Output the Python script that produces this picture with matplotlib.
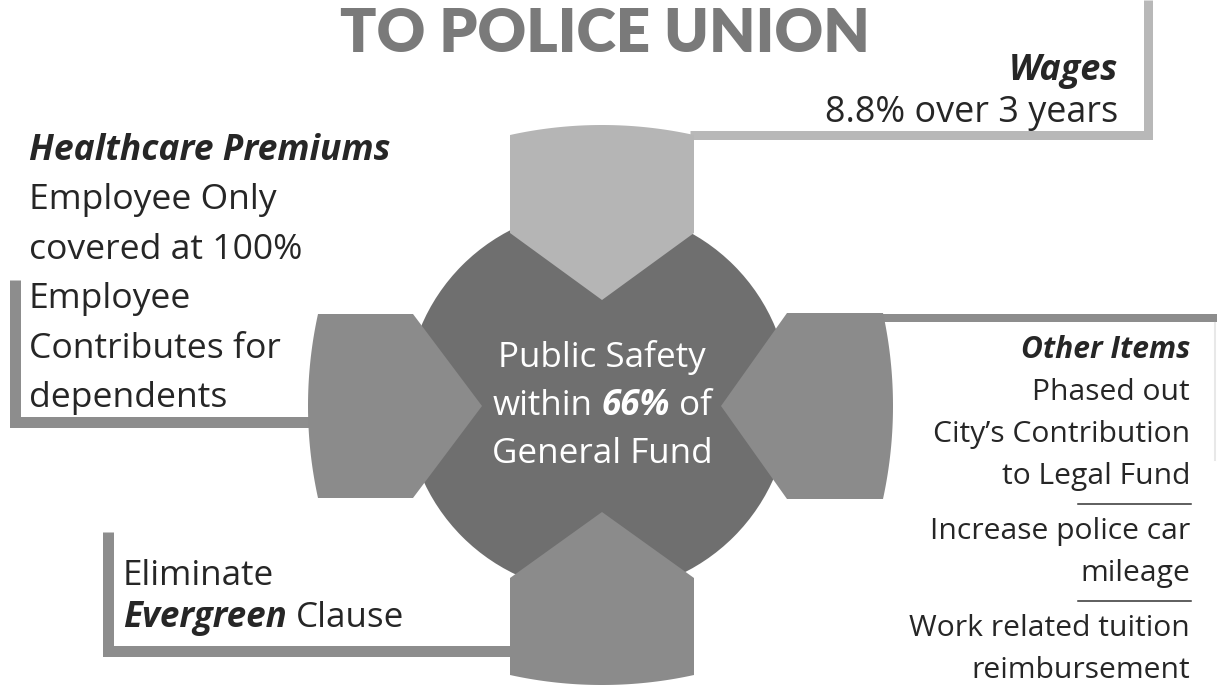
import numpy as np
import matplotlib
matplotlib.use("Agg")
import matplotlib.pyplot as plt
from matplotlib.patches import Polygon, Circle

W, H = 1217, 688
PX = 0.72  # pixels -> points at dpi 100

# ---- text content ----
title = "TO POLICE UNION"

wages_head = "Wages"
wages_lines = ["8.8% over 3 years"]

health_head = "Healthcare Premiums"
health_lines = ["Employee Only", "covered at 100%", "Employee",
                "Contributes for", "dependents"]

other_head = "Other Items"
other_groups = [["Phased out", "City\u2019s Contribution", "to Legal Fund"],
                ["Increase police car", "mileage"],
                ["Work related tuition", "reimbursement"]]

# (text, emphasised) runs, joined by a space
evergreen_runs = [[("Eliminate", False)],
                  [("Evergreen", True), ("Clause", False)]]
center_runs = [[("Public Safety", False)],
               [("within", False), ("66%", True), ("of", False)],
               [("General Fund", False)]]

# ---- layout (pixels) ----
hub = (602, 406)
circle_c, circle_r = (598, 401), 192
arm_dirs = [(0, -1), (-1, 0), (1, 0), (0, 1)]      # top, left, right, bottom
arm_apex = [106, 120, 119, 106]
arm_inner = [173, 189, 185, 172]
arm_outer = [281, 294, 291, 279]
arm_half = [92, 92, 93, 92]
arm_cols = ["#b5b5b5", "#8b8b8b", "#8b8b8b", "#8b8b8b"]

plt.rcParams['font.family'] = ['Open Sans', 'DejaVu Sans']
fig = plt.figure(figsize=(W / 100, H / 100), dpi=100)
ax = fig.add_axes([0, 0, 1, 1])
ax.set_xlim(0, W)
ax.set_ylim(H, 0)
ax.axis('off')
renderer = fig.canvas.get_renderer()


def arm_polygon(d, apex, inner, outer, half, bulge=10, n=40):
    dx, dy = d
    px, py = -dy, dx
    R = (half ** 2 + bulge ** 2) / (2 * bulge)
    pts = [(apex, 0), (inner, half)]
    for v in np.linspace(half, -half, n):
        pts.append((outer - R + np.sqrt(R ** 2 - v ** 2), v))
    pts.append((inner, -half))
    return [(hub[0] + u * dx + v * px, hub[1] + u * dy + v * py) for u, v in pts]


# connectors behind the shapes
def connector(pts, col, lw_px):
    xs, ys = zip(*pts)
    ax.plot(xs, ys, color=col, lw=lw_px * PX, solid_joinstyle='miter',
            solid_capstyle='butt', zorder=1)


connector([(690, 135), (1148, 135), (1148, 0)], "#b8b8b8", 9)
connector([(312, 422), (15, 422), (15, 280)], "#8d8d8d", 11)
connector([(880, 318), (W, 318)], "#8d8d8d", 8)
connector([(512, 651), (108, 651), (108, 532)], "#8d8d8d", 11)
ax.plot([1215, 1215], [323, 460], color="#e8e8e8", lw=1.5, zorder=1)

ax.add_patch(Circle(circle_c, circle_r, color="#6f6f6f", lw=0, zorder=2))
for d, a, i, o, h, c in zip(arm_dirs, arm_apex, arm_inner, arm_outer, arm_half, arm_cols):
    ax.add_patch(Polygon(arm_polygon(d, a, i, o, h), closed=True, color=c, lw=0, zorder=3))

# ---- text ----
ax.text(605, 52, title, fontsize=60 * PX, fontweight='heavy', family=['Lato', 'DejaVu Sans'],
        color="#7a7a7a", ha='center', va='baseline', zorder=5)

ink = "#262626"


def line(x, y, s, size, ha, head=False, color=ink):
    ax.text(x, y, s, fontsize=size, color=color, ha=ha, va='baseline',
            fontweight='bold' if head else 'normal',
            style='italic' if head else 'normal', zorder=5)


def run_line(x, y, runs, size, ha, color=ink):
    a = ax.text(0, 0, "a a", fontsize=size)
    b = ax.text(0, 0, "aa", fontsize=size)
    space = a.get_window_extent(renderer).width - b.get_window_extent(renderer).width
    a.remove(); b.remove()
    texts, widths = [], []
    for s, em in runs:
        t = ax.text(0, y, s, fontsize=size, color=color, ha='left', va='baseline',
                    fontweight='bold' if em else 'normal',
                    style='italic' if em else 'normal', zorder=5)
        texts.append(t)
        widths.append(t.get_window_extent(renderer).width)
    total = sum(widths) + space * (len(runs) - 1)
    start = {'left': x, 'center': x - total / 2, 'right': x - total}[ha]
    for t, w in zip(texts, widths):
        t.set_x(start)
        start += w + space


# wages
sz = 36 * PX
line(1118, 80, wages_head, sz, 'right', head=True)
for k, s in enumerate(wages_lines):
    line(1118, 122 + 45 * k, s, sz, 'right')

# healthcare
sz = 35.5 * PX
line(29, 160, health_head, sz, 'left', head=True)
for k, s in enumerate(health_lines):
    line(29, 160 + 49.4 * (k + 1), s, sz, 'left')

# other items
sz = 30 * PX
y = 358
line(1190, y, other_head, sz, 'right', head=True)
for g, group in enumerate(other_groups):
    if g > 0:
        ax.plot([1078, 1191], [y + 20, y + 20], color="#333333", lw=1.1, zorder=5)
        y += 13
    for s in group:
        y += 42
        line(1190, y, s, sz, 'right')

# evergreen
for k, runs in enumerate(evergreen_runs):
    run_line(123, 585 + 42 * k, runs, 35 * PX, 'left')

# centre
for k, runs in enumerate(center_runs):
    run_line(602, 367 + 48 * k, runs, 35 * PX, 'center', color="white")

fig.savefig("out.png", dpi=100)
